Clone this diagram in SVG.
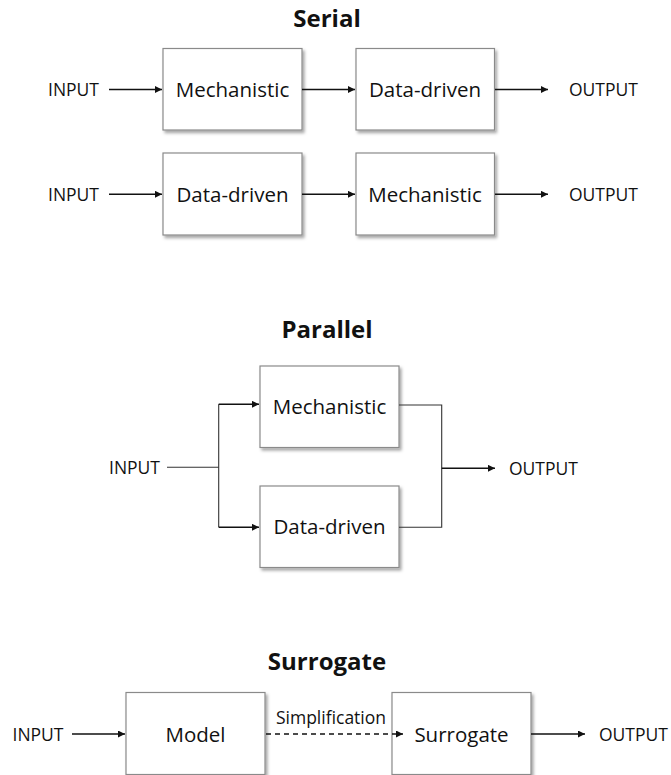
<svg xmlns="http://www.w3.org/2000/svg" width="671" height="775" viewBox="0 0 671 775">
  <defs>
    <filter id="sh" x="-10%" y="-10%" width="125%" height="130%">
      <feDropShadow dx="2" dy="2.5" stdDeviation="1.5" flood-color="#000" flood-opacity="0.35"/>
    </filter>
    <marker id="ah" viewBox="0 0 10 10" refX="10" refY="5" markerWidth="8" markerHeight="7" markerUnits="userSpaceOnUse" orient="auto">
      <path d="M0,0 L10,5 L0,10 Z" fill="#111"/>
    </marker>
  </defs>
  <style>
    .box { fill: #fff; stroke: #8a8a8a; stroke-width: 1.2; filter: url(#sh); }
    .lbl { font-family: "Open Sans", "Liberation Sans", sans-serif; font-size: 20.5px; fill: #111; text-anchor: middle; }
    .io { font-family: "Open Sans", "Liberation Sans", sans-serif; font-size: 17.5px; fill: #111; }
    .title { font-family: "Open Sans", "Liberation Sans", sans-serif; font-size: 24px; font-weight: bold; fill: #111; text-anchor: middle; }
    .small { font-family: "Open Sans", "Liberation Sans", sans-serif; font-size: 17.5px; fill: #111; text-anchor: middle; }
    .arr { stroke: #111; stroke-width: 1.5; fill: none; marker-end: url(#ah); }
    .ln { stroke: #333; stroke-width: 1.1; fill: none; }
    .dash { stroke: #111; stroke-width: 1.3; fill: none; stroke-dasharray: 5 4; marker-end: url(#ah); }
  </style>
  <rect width="671" height="775" fill="#fff"/>

  <!-- Titles -->
  <text class="title" x="327" y="27">Serial</text>
  <text class="title" x="327" y="338">Parallel</text>
  <text class="title" x="327" y="670">Surrogate</text>

  <!-- IO labels -->
  <g id="labels">
    <text class="io" x="48" y="96">INPUT</text>
    <text class="io" x="569" y="96">OUTPUT</text>
    <text class="io" x="48" y="201">INPUT</text>
    <text class="io" x="569" y="201">OUTPUT</text>
    <text class="io" x="109" y="474">INPUT</text>
    <text class="io" x="509" y="475">OUTPUT</text>
    <text class="io" x="12.5" y="740.5">INPUT</text>
    <text class="io" x="599" y="740.5">OUTPUT</text>
  </g>

  <!-- Serial row 1 -->
  <g id="s1-mech">
    <rect class="box" x="163" y="48.5" width="139" height="81.5"/>
    <text class="lbl" x="232.5" y="97">Mechanistic</text>
  </g>
  <g id="s1-data">
    <rect class="box" x="356" y="48.5" width="138.5" height="81.5"/>
    <text class="lbl" x="425" y="97">Data-driven</text>
  </g>
  <!-- Serial row 2 -->
  <g id="s2-data">
    <rect class="box" x="163" y="153" width="139" height="82"/>
    <text class="lbl" x="232.5" y="201.5">Data-driven</text>
  </g>
  <g id="s2-mech">
    <rect class="box" x="356" y="153" width="138.5" height="82"/>
    <text class="lbl" x="425" y="201.5">Mechanistic</text>
  </g>

  <!-- Parallel -->
  <g id="p-mech">
    <rect class="box" x="260" y="366" width="139" height="81.5"/>
    <text class="lbl" x="329.5" y="414">Mechanistic</text>
  </g>
  <g id="p-data">
    <rect class="box" x="260" y="486" width="139" height="81.5"/>
    <text class="lbl" x="329.5" y="534">Data-driven</text>
  </g>

  <!-- Surrogate -->
  <g id="model">
    <rect class="box" x="126" y="692.5" width="139" height="82"/>
    <text class="lbl" x="195.5" y="741.5">Model</text>
  </g>
  <g id="surrogate">
    <rect class="box" x="392" y="692.5" width="139" height="82"/>
    <text class="lbl" x="461.5" y="741.5">Surrogate</text>
  </g>

  <g id="connectors">
    <!-- serial row 1 -->
    <line class="arr" x1="109" y1="89.5" x2="162" y2="89.5"/>
    <line class="arr" x1="302" y1="89.5" x2="355" y2="89.5"/>
    <line class="arr" x1="495" y1="89.5" x2="548" y2="89.5"/>
    <!-- serial row 2 -->
    <line class="arr" x1="109" y1="194.3" x2="162" y2="194.3"/>
    <line class="arr" x1="302" y1="194.3" x2="355" y2="194.3"/>
    <line class="arr" x1="495" y1="194.3" x2="548" y2="194.3"/>
    <!-- parallel -->
    <line class="ln" x1="167" y1="467.3" x2="218.7" y2="467.3"/>
    <polyline class="ln" points="218.7,404.3 218.7,527.3"/>
    <line class="arr" x1="218.7" y1="404.3" x2="259" y2="404.3"/>
    <line class="arr" x1="218.7" y1="527.3" x2="259" y2="527.3"/>
    <polyline class="ln" points="399,405 441.7,405 441.7,527.3 399,527.3"/>
    <line class="arr" x1="441.7" y1="468.3" x2="495" y2="468.3"/>
    <!-- surrogate -->
    <line class="arr" x1="72" y1="734" x2="125" y2="734"/>
    <line class="dash" x1="266" y1="734" x2="403" y2="734"/>
    <text class="small" x="331" y="724.3">Simplification</text>
    <line class="arr" x1="531" y1="734" x2="585" y2="734"/>
  </g>
</svg>
